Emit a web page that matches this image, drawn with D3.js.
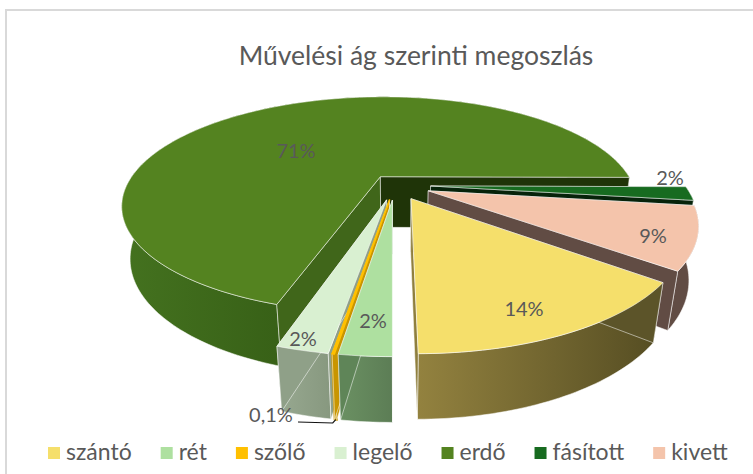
<!DOCTYPE html>
<html>
<head>
<meta charset="utf-8">
<script src="https://cdn.jsdelivr.net/npm/d3@7"></script>
<style>
  html, body { margin: 0; padding: 0; background: #fff; }
  text { font-family: Lato, "Noto Sans", sans-serif; fill: #595959; }
</style>
</head>
<body>
<div id="chart"></div>
<script>
var title = 'Művelési ág szerinti megoszlás';
var categories = ['szántó', 'rét', 'szőlő', 'legelő', 'erdő', 'fásított', 'kivett'];
// labels only give rounded values
var shares = [14.4, 2.4, 0.1, 2.4, 70.7, 2, 8.6];
var shareLabels = ['14%', '2%', '0,1%', '2%', '71%', '2%', '9%'];
var explosion = [0.14, 0.14, 0.14, 0.14, 0.1, 0.14, 0.14];

var topColors = ['#f5df6b', '#aee0a0', '#ffc000', '#d9f0d1', '#548320', '#176b20', '#f4c4ab'];
var wallLeft = ['#93823f', '#6b9163', '#c89500', '#98a991', '#44721f', '#06230a', '#614c44'];
var wallRight = ['#544c22', '#5c7d55', '#c89500', '#87987f', '#1c3a05', '#06230a', '#614c44'];
var cutStart = ['#5c5429', '#5f8558', '#c89500', '#8fa088', '#40661a', '#06230a', '#614c44'];
var cutEnd = ['#8f7f3d', '#5f8558', '#c89500', '#8fa088', '#1f3408', '#06230a', '#614c44'];

// back to front, so nearer slices cover the ones behind
var drawOrder = [4, 5, 6, 0, 3, 2, 1];

// hand placed data labels, as in the original chart
var labelAt = [[524, 316], [373, 328], [271, 422], [303, 346], [296, 158], [670, 185], [653, 243]];

var width = 753, height = 474;

var svg = d3.select('#chart').append('svg')
    .attr('width', width)
    .attr('height', height)
    .style('display', 'block');

var defs = svg.append('defs');

// perspective projection of the pie: x right, y away from viewer, z 0 top / 1 bottom
var view = { cx: 395, cy: 185, a: 254, b: 105, k: 0.2656, m: 0.03, c: 53 };

function project(x, y, z) {
    var d = 1 + view.k * y + view.m * z;
    return [view.cx + view.a * x / d, view.cy + (-view.b * y + view.c * z) / d];
}

var pie = d3.pie()
    .sort(null)
    .startAngle(128.3 * Math.PI / 180)
    .endAngle(128.3 * Math.PI / 180 + 2 * Math.PI);

var slices = pie(shares);
var line = d3.line();

function rim(s, i, z) {
    var mid = (s.startAngle + s.endAngle) / 2,
        ox = explosion[i] * Math.sin(mid),
        oy = explosion[i] * Math.cos(mid),
        n = Math.max(2, Math.ceil((s.endAngle - s.startAngle) / 0.02));
    return d3.range(n + 1).map(j => {
        var a = s.startAngle + (s.endAngle - s.startAngle) * j / n;
        return project(ox + Math.sin(a), oy + Math.cos(a), z);
    });
}

function apex(s, i, z) {
    var mid = (s.startAngle + s.endAngle) / 2;
    return project(explosion[i] * Math.sin(mid), explosion[i] * Math.cos(mid), z);
}

function outline(pts) {
    return line(pts) + 'Z';
}

var edge = 'rgba(255,255,255,0.65)';

drawOrder.forEach(i => {
    var s = slices[i],
        top = rim(s, i, 0),
        bottom = rim(s, i, 1),
        a0 = apex(s, i, 0),
        a1 = apex(s, i, 1),
        g = svg.append('g').attr('class', 'slice');

    var grad = defs.append('linearGradient').attr('id', 'wall' + i);
    grad.append('stop').attr('offset', 0).attr('stop-color', wallLeft[i]);
    grad.append('stop').attr('offset', 1).attr('stop-color', wallRight[i]);

    var thin = shares[i] < 1;

    // outer wall
    g.append('path')
        .attr('d', outline(top.concat(bottom.slice().reverse())))
        .attr('fill', 'url(#wall' + i + ')')
        .attr('stroke', thin ? wallLeft[i] : edge)
        .attr('stroke-width', thin ? 2 : 0.8);

    // the two cut faces
    g.append('path')
        .attr('d', outline([a0, a1, bottom[0], top[0]]))
        .attr('fill', cutStart[i])
        .attr('stroke', edge)
        .attr('stroke-width', 0.8);

    g.append('path')
        .attr('d', outline([a0, a1, bottom[bottom.length - 1], top[top.length - 1]]))
        .attr('fill', cutEnd[i])
        .attr('stroke', edge)
        .attr('stroke-width', 0.8);

    // top face
    g.append('path')
        .attr('d', outline([a0].concat(top)))
        .attr('fill', topColors[i])
        .attr('stroke', thin ? topColors[i] : edge)
        .attr('stroke-width', thin ? 1.6 : 0.8)
        .attr('stroke-linejoin', 'round');
});

// frame of the chart area
svg.append('path')
    .attr('d', 'M6,' + height + 'V10H' + width)
    .attr('fill', 'none')
    .attr('stroke', '#d9d9d9')
    .attr('stroke-width', 2);

svg.append('text')
    .attr('x', 416)
    .attr('y', 65)
    .attr('text-anchor', 'middle')
    .style('font-size', '26.5px')
    .text(title);

// leader line of the 0,1% label
var szoloFoot = rim(slices[2], 2, 1)[1];
svg.append('path')
    .attr('d', line([[298, 422], [szoloFoot[0] - 3, 423], szoloFoot]))
    .attr('fill', 'none')
    .attr('stroke', '#111')
    .attr('stroke-width', 1.2);

svg.selectAll('.share')
    .data(shareLabels)
    .enter()
    .append('text')
    .attr('class', 'share')
    .attr('x', (d, i) => labelAt[i][0])
    .attr('y', (d, i) => labelAt[i][1])
    .attr('text-anchor', 'middle')
    .style('font-size', '20px')
    .text(d => d);

// legend, laid out from the measured label widths
var legendX = 48;
categories.forEach((name, i) => {
    svg.append('rect')
        .attr('x', legendX)
        .attr('y', 447)
        .attr('width', 12)
        .attr('height', 12)
        .attr('fill', topColors[i]);
    var t = svg.append('text')
        .attr('x', legendX + 18)
        .attr('y', 460)
        .style('font-size', '23px')
        .text(name);
    legendX += 18 + t.node().getComputedTextLength() + 29;
});
</script>
</body>
</html>
